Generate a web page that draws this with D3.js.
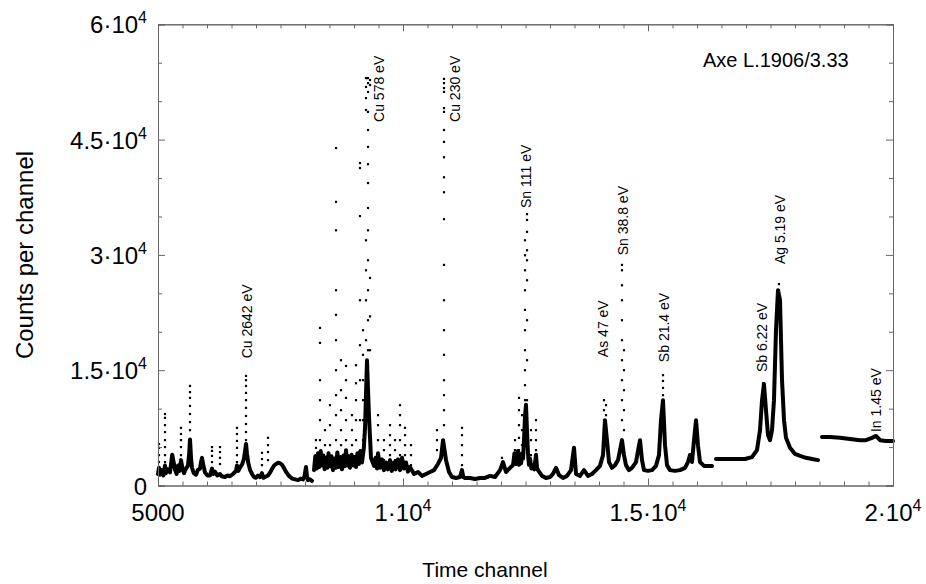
<!DOCTYPE html>
<html><head><meta charset="utf-8">
<script src="https://cdn.jsdelivr.net/npm/d3@7"></script>
<style>body{margin:0;background:#fff}svg{display:block}text{font-family:"Liberation Sans",Arial,sans-serif;fill:#000}</style>
</head><body>
<script>
// ---- data: [time channel, counts] ----
const segA = [[5000,1500],[5020,2300],[5040,1400],[5082,2000],[5110,1300],[5143,2600],[5163,1600],[5200,2100],[5245,1700],[5270,3000],[5290,4000],[5320,3000],[5350,2000],[5380,1500],[5410,2600],[5440,1900],[5469,3300],[5500,2200],[5531,1600],[5570,2200],[5612,2600],[5635,4000],[5653,6000],[5675,3500],[5694,2300],[5730,1600],[5776,1400],[5810,2000],[5857,2200],[5880,3100],[5898,3600],[5920,2800],[5959,1700],[6010,1300],[6061,1300],[6102,2200],[6130,1500],[6163,1800],[6210,1300],[6265,1500],[6300,1200],[6367,1100],[6420,1300],[6469,1200],[6530,1500],[6592,1900],[6612,2600],[6640,1900],[6673,2300],[6720,2800],[6755,3500],[6780,4600],[6796,5400],[6815,4200],[6840,3000],[6880,2000],[6920,1500],[6960,1100],[7000,1000],[7040,1300],[7082,1100],[7122,1600],[7150,1000],[7184,1100],[7245,1300],[7290,1700],[7330,2200],[7370,2600],[7410,2800],[7450,2950],[7490,2900],[7530,2700],[7570,2300],[7610,1800],[7653,1400],[7700,1100],[7740,900],[7800,800],[7860,700],[7910,900],[7960,800],[7990,1200],[8020,2400],[8040,1200],[8061,700],[8100,800],[8143,600]];
const segB = [[8184,2000],[8210,3800],[8240,2200],[8265,4200],[8290,2400],[8320,4500],[8347,2600],[8375,3900],[8400,2100],[8429,3600],[8455,2300],[8480,4200],[8510,2500],[8540,3800],[8570,2000],[8600,3500],[8630,2300],[8660,4300],[8690,2400],[8720,3700],[8755,2100],[8785,3900],[8810,2500],[8837,4600],[8865,2600],[8890,3800],[8918,2300],[8950,4000],[8980,2600],[9010,3700],[9041,2400],[9070,4200],[9100,2800],[9130,4500],[9163,3000],[9200,4800],[9225,7500],[9265,16300],[9306,9000],[9347,3600],[9408,2550],[9440,3600],[9470,2200],[9490,4200],[9530,2300],[9571,3400],[9610,2000],[9653,3000],[9690,2100],[9735,3300],[9770,1900],[9816,3000],[9850,2100],[9898,3400],[9940,2000],[9980,3600],[10020,2200],[10061,3000],[10100,1800],[10143,2400],[10225,1500],[10306,1750],[10388,1250],[10470,1500],[10551,1750],[10633,2000],[10714,2800],[10776,3600],[10817,5900],[10878,3300],[10939,1750],[11000,1100],[11082,980],[11163,1100],[11204,2000],[11230,1100],[11265,980],[11367,980],[11469,850],[11571,980],[11673,980],[11776,1250],[11878,1100],[11980,2000],[12041,3050],[12102,1750],[12184,2300],[12245,2650],[12275,4200],[12306,2800],[12347,4500],[12370,2700],[12388,3800],[12410,2900],[12429,4200],[12450,3500],[12470,6000],[12490,9000],[12510,10500],[12531,7000],[12551,4200],[12570,2700],[12592,3500],[12620,2200],[12653,2600],[12680,2100],[12714,4000],[12735,2300],[12755,2000],[12837,1250],[12918,980],[13000,1100],[13061,1500],[13122,2300],[13184,1350],[13265,980],[13347,1250],[13429,2000],[13490,4900],[13531,1500],[13612,1250],[13694,2000],[13776,1250],[13857,1500],[13939,2000],[14020,2550],[14082,3950],[14122,8500],[14163,5900],[14204,3050],[14265,2300],[14327,2650],[14388,3300],[14429,4600],[14469,5900],[14510,3950],[14551,2650],[14612,2000],[14673,2300],[14755,3050],[14796,4500],[14837,5900],[14878,3300],[14918,2000],[15000,1900],[15082,2000],[15163,2550],[15224,3950],[15265,8500],[15306,11100],[15347,5250],[15388,2650],[15449,2000],[15551,1900],[15653,2000],[15755,2300],[15816,3050],[15857,3950],[15898,3050],[15939,5900],[15980,8500],[16020,5250],[16061,3050],[16143,2550],[16224,2550],[16306,2550]];
const segC = [[16388,3450],[16673,3450],[16980,3450],[17122,3700],[17224,4600],[17286,7200],[17327,11100],[17367,13200],[17408,9800],[17449,6550],[17490,5900],[17531,7200],[17571,11100],[17612,20200],[17653,25400],[17694,24100],[17735,13700],[17776,8500],[17816,6200],[17898,4900],[18000,4100],[18102,3850],[18224,3600],[18347,3450],[18469,3300]];
const segD = [[18551,6300],[18714,6300],[18918,6200],[19122,6050],[19327,5900],[19449,5900],[19571,6200],[19653,6450],[19735,5900],[19857,5800],[20000,5800]];

const dotsLow = [[5020,3050],[5020,3950],[5020,4900],[5020,5400],[5143,3050],[5143,3950],[5143,5000],[5143,5900],[5143,6950],[5143,7850],[5143,8800],[5143,9300],[5469,3950],[5469,5000],[5469,5900],[5469,6700],[5469,7500],[5653,7200],[5653,8250],[5653,9300],[5653,10350],[5653,11400],[5653,12150],[5653,12950],[6102,3050],[6102,3850],[6102,4500],[6102,5000],[6265,2800],[6265,3600],[6265,4350],[6265,5000],[6612,3050],[6612,3950],[6612,4900],[6612,5800],[6612,6700],[6612,7500],[6796,5900],[6796,6950],[6796,8000],[6796,9050],[6796,10100],[6796,11100],[6796,12050],[6796,12950],[6796,13700],[6796,14250],[7122,2650],[7122,3450],[7122,4250],[7245,3300],[7245,4350],[7245,5250],[7245,6200]];
const dotsCu = [[8224,3950],[8224,4900],[8224,5900],[8306,5900],[8306,8500],[8306,11100],[8306,13700],[8306,18550],[8306,20500],[8408,5250],[8408,7200],[8510,5250],[8510,7850],[8510,10450],[8633,5900],[8633,9150],[8633,11750],[8633,15000],[8633,18900],[8633,22200],[8633,25400],[8633,33200],[8633,36900],[8633,43900],[8735,5250],[8735,7200],[8735,9800],[8735,12400],[8735,16300],[8837,5900],[8837,8500],[8837,11400],[8837,13700],[8837,15550],[8959,5250],[8959,7200],[8959,9150],[9041,5900],[9041,8500],[9041,11100],[9041,13300],[9041,15650],[9122,8500],[9122,13700],[9122,18250],[9122,24100],[9122,35050],[9122,41300],[9122,41950],[9184,5900],[9184,8500],[9184,11100],[9184,13700],[9184,17000],[9184,20200],[9245,18900],[9245,24100],[9245,28000],[9245,31900],[9245,48850],[9245,50400],[9245,51850],[9245,53000],[9286,17600],[9286,21500],[9286,25400],[9286,29300],[9286,33200],[9286,36100],[9286,39350],[9286,41800],[9286,44050],[9286,46250],[9286,48600],[9286,51200],[9286,52350],[9286,53000],[9327,17600],[9327,22000],[9327,27000],[9327,52100],[9327,52750],[9490,3950],[9490,5900],[9490,7850],[9490,9150],[9612,3300],[9612,4600],[9612,5900],[9735,3950],[9735,5250],[9735,6550],[9735,7850],[9837,3300],[9837,4600],[9837,5900],[9939,3950],[9939,5900],[9939,7850],[9939,9150],[9939,10450],[10041,3950],[10041,5250],[10041,6550],[10041,7500],[10163,2650],[10163,3950],[10163,5250],[10694,4600],[10694,5900],[10694,7200],[10837,7850],[10837,9800],[10837,11750],[10837,13700],[10837,17000],[10837,20200],[10837,24100],[10837,28700],[10837,34650],[10837,38150],[10837,40100],[10837,42700],[10837,44700],[10837,46250],[10837,48600],[10837,49100],[10837,51200],[10837,51700],[10837,52350],[10837,52900],[11204,2650],[11204,3950],[11204,5250],[11204,6550],[11204,7500]];
const dotsSn = [[12020,2650],[12020,3600],[12286,3300],[12286,4600],[12286,5900],[12367,4600],[12367,6200],[12367,7850],[12367,9800],[12367,11400],[12429,5250],[12429,7200],[12429,9150],[12490,7200],[12490,9150],[12490,11100],[12490,13050],[12490,15000],[12490,17600],[12490,20200],[12490,22850],[12490,25400],[12490,28000],[12490,29950],[12490,31900],[12531,7200],[12531,11100],[12531,16300],[12531,21500],[12531,26700],[12531,29300],[12531,30600],[12531,33000],[12531,34550],[12531,35300],[12612,3950],[12612,5900],[12612,7200],[12714,4600],[12714,5900],[12714,7200],[12714,8500]];
const dotsHigh = [[14102,7200],[14102,8500],[14102,9800],[14102,11100],[14143,7200],[14143,9150],[14143,10450],[14469,8500],[14469,11100],[14469,13700],[14469,16300],[14469,18900],[14469,21500],[14469,24100],[14469,26050],[14469,28000],[14469,28700],[14510,7200],[14510,9800],[14510,12400],[14510,15000],[14510,17600],[15306,11750],[15306,12700],[15306,13600],[15306,14350],[16000,7200],[16000,7850],[17347,12400],[17347,13300],[17673,25400],[17673,26200]];

const peakLabels = [["Cu 2642 eV",6816,16550],["Cu 578 eV",9510,47300],["Cu 230 eV",11061,47300],["Sn 111 eV",12510,36100],["As 47 eV",14082,16700],["Sn 38.8 eV",14490,29950],["Sb 21.4 eV",15327,16050],["Sb 6.22 eV",17327,14750],["Ag 5.19 eV",17694,28800],["In 1.45 eV",19653,6950]];
const xMajor = [5000,10000,15000,20000];
const yMajor = [0,15000,30000,45000,60000];

// ---- drawing ----
const W=926,H=584;
const svg=d3.select("body").append("svg").attr("width",W).attr("height",H);
const x=d3.scaleLinear().domain([5000,20000]).range([158,893]);
const y=d3.scaleLinear().domain([0,60000]).range([485.5,24.3]);
const axisColor="#666";

const line=d3.line().x(d=>x(d[0])).y(d=>y(d[1]));
[segA,segB,segC,segD].forEach(s=>{
  svg.append("path").attr("d",line(s)).attr("fill","none").attr("stroke","#000")
    .attr("stroke-width",4).attr("stroke-linejoin","round").attr("stroke-linecap","round");
});
const allDots=dotsLow.concat(dotsCu,dotsSn,dotsHigh);
svg.append("g").selectAll("rect").data(allDots).join("rect")
  .attr("x",d=>x(d[0])-1.1).attr("y",d=>y(d[1])-1.1).attr("width",2.2).attr("height",2.2).attr("fill","#000");

// frame & ticks
const xMinor=d3.range(5000,20001,500).filter(v=>!xMajor.includes(v));
const yMinor=d3.range(0,60001,5000).filter(v=>!yMajor.includes(v));
function ax(gen,scale,vals,len,tr){
  svg.append("g").attr("transform",tr).call(gen(scale).tickValues(vals).tickSize(len).tickFormat(""))
   .call(g=>{g.select(".domain").attr("stroke",axisColor);g.selectAll(".tick line").attr("stroke",axisColor);});
}
ax(d3.axisBottom,x,xMajor,-7,`translate(0,${y(0)})`);
ax(d3.axisBottom,x,xMinor,-4,`translate(0,${y(0)})`);
ax(d3.axisTop,x,xMajor,-7,`translate(0,${y(60000)})`);
ax(d3.axisTop,x,xMinor,-4,`translate(0,${y(60000)})`);
ax(d3.axisLeft,y,yMajor,-7,`translate(${x(5000)},0)`);
ax(d3.axisLeft,y,yMinor,-4,`translate(${x(5000)},0)`);
ax(d3.axisRight,y,yMajor,-7,`translate(${x(20000)},0)`);
ax(d3.axisRight,y,yMinor,-4,`translate(${x(20000)},0)`);

function sci(t,v){
  if(v===0||v===5000){t.text(String(v));return;}
  const m=v/1e4;
  t.append("tspan").text(String(m)+"\u00B710");
  t.append("tspan").attr("dy",-10).attr("font-size",16).text("4");
}
xMajor.forEach(v=>{
  const t=svg.append("text").attr("x",x(v)).attr("y",521).attr("text-anchor","middle").attr("font-size",24);
  sci(t,v);
});
yMajor.forEach(v=>{
  const t=svg.append("text").attr("x",147).attr("y",y(v)+9).attr("text-anchor","end").attr("font-size",24);
  sci(t,v);
});

svg.append("text").attr("x",485).attr("y",577).attr("text-anchor","middle").attr("font-size",21).text("Time channel");
svg.append("text").attr("transform","translate(33,255) rotate(-90)").attr("text-anchor","middle").attr("font-size",24).text("Counts per channel");
svg.append("text").attr("x",703).attr("y",67).attr("font-size",20).text("Axe L.1906/3.33");

peakLabels.forEach(([s,c,v])=>{
  svg.append("text").attr("transform",`translate(${x(c)},${y(v)}) rotate(-90)`).attr("dy","0.35em")
    .attr("text-anchor","start").attr("font-size",14).text(s);
});
</script>
</body></html>
